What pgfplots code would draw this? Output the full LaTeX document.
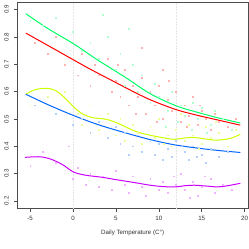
\documentclass[border=0pt]{standalone}
\usepackage{fontspec}
\setmainfont{Liberation Sans}
\usepackage{pgfplots}
\pgfplotsset{compat=1.18}
\definecolor{cRed}{HTML}{FF0000}
\definecolor{cYel}{HTML}{CCFF00}
\definecolor{cGrn}{HTML}{00FF66}
\definecolor{cBlu}{HTML}{0066FF}
\definecolor{cMag}{HTML}{CC00FF}
\pgfplotsset{pts/.style={only marks, mark=square*, mark size=0.45bp, color=#1, mark options={draw=none, fill=#1}}}
\begin{document}
\begin{tikzpicture}
\fontsize{6.2}{7}\selectfont
\path[use as bounding box] (-17.3bp,-40.3bp) rectangle (231.7bp,208.7bp);
\begin{axis}[
  at={(0,0)}, anchor=south west,
  scale only axis, width=230.7bp, height=206.7bp,
  xmin=-6.5, xmax=20.4, ymin=0.171, ymax=0.928,
  xtick={-5,0,5,10,15,20},
  ytick={0.2,0.3,0.4,0.5,0.6,0.7,0.8,0.9},
  yticklabels={0.2,0.3,0.4,0.5,0.6,0.7,0.8,0.9},
  xticklabels={-5,0,5,10,15,20},
  tick align=outside, major tick length=3bp,
  xtick pos=bottom, ytick pos=left,
  axis line style={black!70, line width=0.5bp},
  every tick/.style={black!70, line width=0.5bp},
  tick label style={font=\fontsize{6.2}{7}\selectfont, text=black!80},
  yticklabel style={rotate=90, anchor=south, inner sep=0pt, xshift=0bp},
  xticklabel style={anchor=north, inner sep=0pt},
  xticklabel shift=4.5bp, yticklabel shift=5.5bp,
  xlabel={Daily Temperature (C°)},
  xlabel style={font=\fontsize{6.2}{7}\selectfont, text=black!80, at={(axis description cs:0.5,0)}, anchor=north, yshift=-21bp, inner sep=0pt},
  clip=true,
]
\draw[black!10, dash pattern=on 1.5bp off 1.5bp, line width=0.5bp] (axis cs:0,0.171) -- (axis cs:0,0.928);
\draw[black!10, dash pattern=on 1.5bp off 1.5bp, line width=0.5bp] (axis cs:12,0.171) -- (axis cs:12,0.928);
% scatter points
\addplot[pts=cRed!30] coordinates {
(-4.5,0.78)(-3,0.74)(-2,0.80)(-1,0.70)(0.5,0.66)(1,0.74)(2,0.62)(2.5,0.70)(3,0.66)(4,0.72)(4.5,0.60)(5,0.64)(5.5,0.58)(6,0.68)(6.5,0.55)(7,0.62)(7.5,0.58)(8,0.65)(8.5,0.52)(9,0.60)(9.5,0.55)(10,0.62)(10.5,0.50)(11,0.57)(11.5,0.53)(12,0.60)(12.5,0.49)(13,0.55)(13.5,0.51)(14,0.58)(14.5,0.48)(15,0.53)(15.5,0.50)(16,0.46)(16.5,0.52)(17,0.49)(18,0.47)(19,0.50)(8,0.76)(10.5,0.68)(5.2,0.70)(7.3,0.52)(9.8,0.49)(11.2,0.64)(13.2,0.47)(14.8,0.55)};
\addplot[pts=cGrn!30] coordinates {
(-5,0.86)(-3.5,0.84)(-2,0.87)(0,0.82)(1,0.75)(2,0.78)(3,0.72)(4,0.80)(5,0.68)(5.5,0.74)(6,0.62)(7,0.70)(7.5,0.60)(8,0.66)(9,0.56)(9.5,0.63)(10,0.58)(11,0.53)(11.5,0.60)(12.5,0.55)(13,0.51)(14,0.56)(14.5,0.50)(15,0.54)(16,0.48)(16.5,0.53)(17.5,0.50)(18.5,0.46)(3.5,0.88)(6.5,0.83)(10.8,0.47)(12.2,0.49)(13.8,0.46)(15.6,0.45)};
\addplot[pts=cYel!40] coordinates {
(-5,0.55)(-3,0.58)(-1,0.60)(0.5,0.52)(1,0.48)(2,0.55)(3,0.46)(4,0.52)(5,0.44)(5.5,0.50)(6,0.42)(7,0.48)(7.5,0.45)(8,0.41)(9,0.47)(9.5,0.43)(10,0.50)(11,0.44)(11.5,0.40)(12,0.46)(13,0.42)(13.5,0.48)(14,0.44)(15,0.41)(15.5,0.47)(16,0.43)(17,0.45)(18,0.40)(19,0.46)(12.5,0.52)(10.6,0.41)(14.6,0.39)(16.6,0.49)};
\addplot[pts=cBlu!30] coordinates {
(-4.5,0.55)(-2,0.52)(0,0.48)(1,0.50)(2,0.45)(3,0.49)(4,0.43)(5,0.47)(5.5,0.41)(6,0.45)(7,0.40)(7.5,0.44)(8,0.38)(9,0.42)(9.5,0.37)(10,0.41)(11,0.39)(11.5,0.36)(12,0.42)(13,0.38)(13.5,0.35)(14,0.40)(15,0.37)(15.5,0.34)(16,0.39)(17,0.36)(18,0.38)(6.5,0.37)(10.5,0.35)(12.7,0.40)(14.4,0.36)};
\addplot[pts=cMag!30] coordinates {
(-5,0.33)(-3.5,0.38)(-2,0.34)(0,0.28)(0.5,0.32)(1.5,0.26)(2,0.30)(3,0.25)(3.5,0.29)(4.5,0.24)(5,0.31)(6,0.26)(6.5,0.23)(7,0.29)(8,0.25)(8.5,0.22)(9,0.28)(10,0.24)(10.5,0.27)(11,0.23)(12,0.26)(12.5,0.30)(13,0.24)(14,0.27)(14.5,0.22)(15,0.25)(16,0.28)(16.5,0.23)(17.5,0.26)(18.5,0.24)(-0.5,0.40)(11.7,0.29)(13.6,0.21)(15.4,0.29)};
% smooth curves
\addplot[cGrn, line width=1bp, smooth, tension=0.5] coordinates {
(-5.5,0.885)(-3,0.832)(0,0.776)(3,0.713)(6.1,0.652)(9,0.592)(12,0.548)(14.5,0.524)(17,0.503)(19.5,0.485)};
\addplot[cRed, line width=1bp, smooth, tension=0.5] coordinates {
(-5.5,0.814)(-3,0.770)(0,0.717)(2,0.682)(4.5,0.641)(6.7,0.605)(9,0.570)(12,0.534)(14.5,0.513)(17,0.495)(19.5,0.477)};
\addplot[cYel, line width=1bp, smooth, tension=0.6] coordinates {
(-5.5,0.590)(-4.5,0.606)(-3.1,0.612)(-2,0.603)(-1,0.578)(0,0.546)(1,0.520)(2.2,0.505)(3.75,0.499)(5,0.487)(6.1,0.471)(7.5,0.452)(9,0.440)(10.5,0.431)(11.8,0.425)(13,0.430)(14.1,0.432)(15.3,0.427)(16.5,0.422)(17.5,0.424)(18.4,0.429)(19.5,0.443)};
\addplot[cBlu, line width=1bp, smooth, tension=0.5] coordinates {
(-5.5,0.590)(-3,0.553)(0,0.513)(3,0.478)(6.2,0.448)(9,0.424)(11.8,0.405)(14.5,0.393)(17,0.384)(19.5,0.377)};
\addplot[cMag, line width=1bp, smooth, tension=0.6] coordinates {
(-5.6,0.359)(-4.5,0.361)(-3.5,0.360)(-2.3,0.349)(-1,0.328)(0,0.306)(1.4,0.294)(3.4,0.286)(4.9,0.278)(7.1,0.267)(9,0.257)(10.5,0.252)(12,0.251)(13,0.255)(14.1,0.257)(15.5,0.254)(16.9,0.251)(18,0.255)(19.5,0.264)};
\end{axis}
\end{tikzpicture}
\end{document}
